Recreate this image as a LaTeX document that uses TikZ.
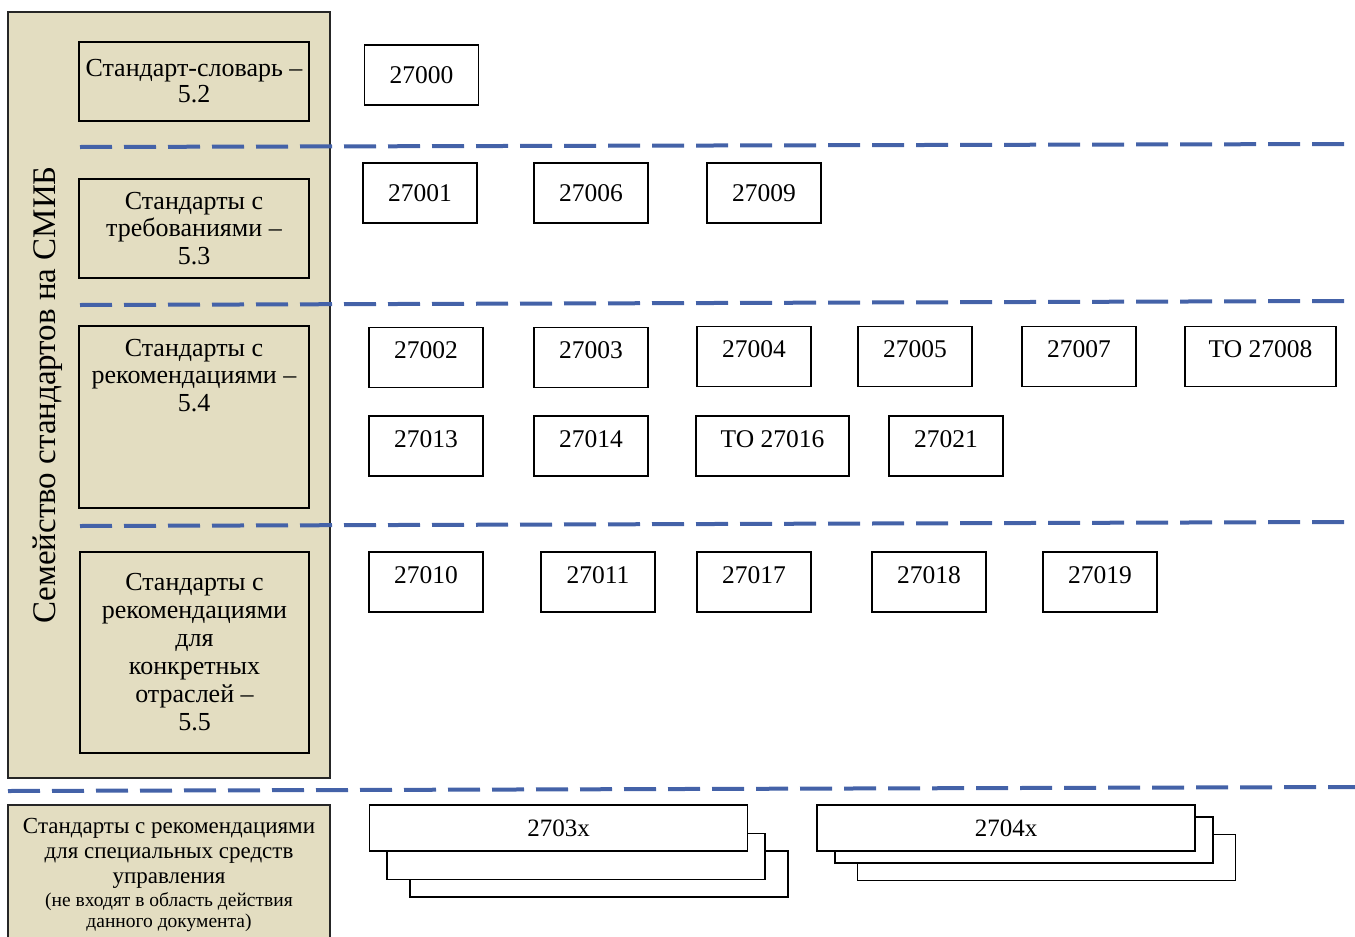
\documentclass[tikz,border=0pt]{standalone}
\usepackage{fontspec}
\setmainfont{Liberation Serif}
\usetikzlibrary{calc}

\definecolor{tan}{RGB}{227,221,193}
\definecolor{sepblue}{RGB}{68,98,168}

\begin{document}
\begin{tikzpicture}[x=1pt,y=-1pt,
        panel/.style={draw=black!85,fill=tan,line width=1.3pt,inner sep=0},
        cat/.style={draw=black,fill=tan,line width=1.3pt,align=center,inner sep=0,minimum width=230,font=\fontsize{26}{27.5}\selectfont},
        std/.style={draw=black,line width=1.1pt,inner sep=0,minimum width=114,minimum height=60,font=\fontsize{25.5}{28}\selectfont},
        up/.style={text depth=14pt},
        sheet/.style={draw=black,fill=white,line width=1.1pt,inner sep=0,minimum width=378,minimum height=46,font=\fontsize{25}{28}\selectfont},
        sep/.style={draw=sepblue,line width=4pt,dash pattern=on 32pt off 12pt}]
        \useasboundingbox (0,0) rectangle (1355,937);
        \node[panel,minimum width=322,minimum height=766] (fam) at (169,395) {};
        \node[rotate=90,font=\fontsize{33}{36}\selectfont] (title) at (48,395) {Семейство стандартов на СМИБ};
        \node[cat,minimum height=79]  (c2) at (194,81.5) {Стандарт-словарь –\\[-1.5pt]5.2};
        \node[cat,minimum height=99]  (c3) at (194,228.5) {Стандарты с\\требованиями –\\5.3};
        \node[cat,minimum height=182] (c4) at (194,417) {\parbox[c][156pt][t]{228pt}{\centering Стандарты с\\рекомендациями –\\5.4}};
        \node[cat,minimum height=201,minimum width=229,font=\fontsize{26}{28}\selectfont] (c5) at (194.5,652.5) {Стандарты с\\рекомендациями\\для\\конкретных\\отраслей –\\5.5};
        \node[panel,minimum width=322,minimum height=140,align=center,font=\fontsize{23}{25}\selectfont] (c6) at (169,875)
          {Стандарты с рекомендациями\\для специальных средств\\управления\\[-2pt]{\fontsize{19.5}{21}\selectfont (не входят в область действия}\\[-4pt]{\fontsize{19.5}{21}\selectfont данного документа)}};

        \draw[sep] (80,147) -- (1345,144);
        \draw[sep] (80,305) -- (1345,301);
        \draw[sep] (80,526) -- (1345,522);
        \draw[sep] (8,791) -- (1355,787);

        \node[std] (27000) at (421.5,75) {27000};
        \node[std] (27001) at (420,193) {27001};
        \node[std] (27006) at (591,193) {27006};
        \node[std] (27009) at (764,193) {27009};

        \node[std,up] (27002) at (426,357.5) {27002};
        \node[std,up] (27003) at (591,357.5) {27003};
        \node[std,up] (27004) at (754,356.5) {27004};
        \node[std,up] (27005) at (915,356.5) {27005};
        \node[std,up] (27007) at (1079,356.5) {27007};
        \node[std,up,minimum width=151] (27008) at (1260.5,356.5) {ТО 27008};
        \node[std,up] (27013) at (426,446) {27013};
        \node[std,up] (27014) at (591,446) {27014};
        \node[std,up,minimum width=153] (27016) at (772.5,446) {ТО 27016};
        \node[std,up] (27021) at (946,446) {27021};

        \node[std,up] (27010) at (426,582) {27010};
        \node[std,up] (27011) at (598,582) {27011};
        \node[std,up] (27017) at (754,582) {27017};
        \node[std,up] (27018) at (929,582) {27018};
        \node[std,up] (27019) at (1100,582) {27019};

        \node[sheet] (a3) at (599,874) {};
        \node[sheet] (a2) at (576,856.5) {};
        \node[sheet] (a1) at (558.5,828) {2703x};
        \node[sheet] (b3) at (1046.5,857.5) {};
        \node[sheet] (b2) at (1024,840) {};
        \node[sheet] (b1) at (1006,828) {2704x};
      \end{tikzpicture}
\end{document}
